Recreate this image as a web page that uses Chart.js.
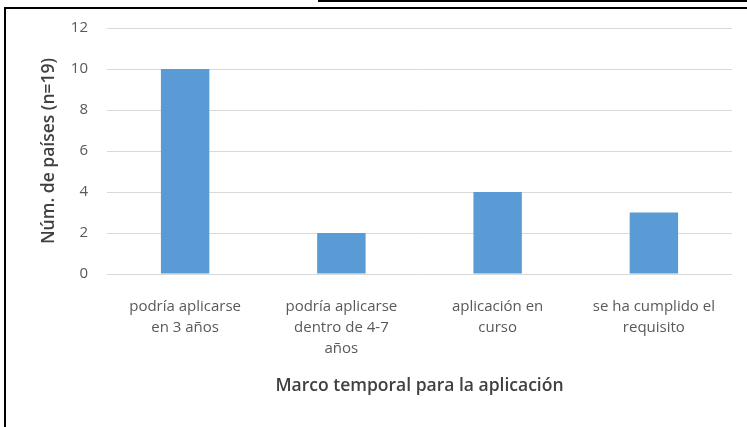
<!DOCTYPE html>
<html>
<head>
<meta charset="utf-8">
<script src="https://cdn.jsdelivr.net/npm/chart.js@4/dist/chart.umd.min.js"></script>
<style>
  html, body { margin: 0; padding: 0; background: #fff; overflow: hidden; }
  #wrap { position: relative; width: 747px; height: 427px; }
  #frame { position: absolute; left: 4px; top: 7px; width: 800px; height: 500px;
           border-left: 2px solid #000; border-top: 2px solid #000; }
  #topBox { position: absolute; left: 318px; top: -10px; width: 500px; height: 12px;
            box-sizing: border-box; border: 2px solid #000; background: #e8e8e8; }
  canvas { position: absolute; left: 0; top: 0; }
</style>
</head>
<body>
<div id="wrap">
  <canvas id="chart" width="747" height="427"></canvas>
  <div id="frame"></div>
  <div id="topBox"></div>
</div>
<script>
// values
const categories = [
    ['podría aplicarse', 'en 3 años'],
    ['podría aplicarse', 'dentro de 4-7', 'años'],
    ['aplicación en', 'curso'],
    ['se ha cumplido el', 'requisito'],
];
const countries = [10, 2, 4, 3];
const yTicks = [0, 2, 4, 6, 8, 10, 12];
const xTitle = 'Marco temporal para la aplicación';
const yTitle = 'Núm. de países (n=19)';

const fontFamily = '"Open Sans", "Noto Sans", sans-serif';

function drawChart() {
    const ctx = document.getElementById('chart').getContext('2d');
    const data = {
        labels: categories,
        datasets: [{
            data: countries,
            backgroundColor: '#5b9bd5',
            borderWidth: 0,
            categoryPercentage: 1,
            barPercentage: 0.31,
        }]
    };
    let myBarChart = new Chart(ctx, {
        type: 'bar',
        data: data,
        options: {
            responsive: false,
            animation: false,
            layout: { padding: { left: 39, right: 15, top: 24, bottom: 30 } },
            plugins: {
                legend: { display: false },
                tooltip: { enabled: false },
            },
            scales: {
                x: {
                    grid: { display: false },
                    border: { display: false },
                    ticks: {
                        color: '#595959',
                        font: { family: fontFamily, size: 15, lineHeight: 1.4 },
                        padding: 14,
                        maxRotation: 0,
                        autoSkip: false,
                    },
                    title: {
                        display: true,
                        text: xTitle,
                        color: '#404040',
                        font: { family: fontFamily, size: 17.5, weight: '600' },
                        padding: 0,
                    },
                    afterFit: (scale) => { scale.height = 123; },
                },
                y: {
                    min: yTicks[0],
                    max: yTicks[yTicks.length - 1],
                    afterBuildTicks: (scale) => { scale.ticks = yTicks.map(v => ({ value: v })); },
                    grid: { color: '#d9d9d9', drawTicks: false },
                    border: { display: false },
                    ticks: {
                        color: '#595959',
                        font: { family: fontFamily, size: 15 },
                        padding: 19,
                    },
                    title: {
                        display: true,
                        text: yTitle,
                        color: '#404040',
                        font: { family: fontFamily, size: 17.5, weight: '600' },
                        padding: 0,
                    },
                    afterFit: (scale) => { scale.width = 68; },
                },
            },
        },
    });
}

drawChart();
</script>
</body>
</html>
